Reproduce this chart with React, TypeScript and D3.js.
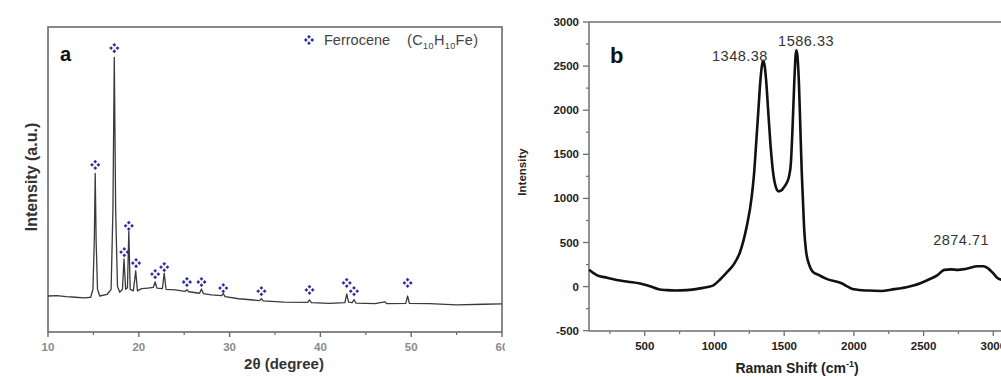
import React, { useEffect } from "react";
import * as d3 from "d3";

// ---------- Panel a : XRD ----------
const xrdAngle = [10.0, 11.0, 12.0, 13.0, 14.0, 14.7, 14.95, 15.1, 15.2, 15.3, 15.45, 15.7, 16.5, 16.95, 17.15, 17.3, 17.45, 17.65, 17.9, 18.2, 18.37, 18.55, 18.75, 18.9, 19.05, 19.4, 19.66, 19.85, 20.3, 21.0, 21.6, 21.8, 22.0, 22.6, 22.8, 23.0, 24.0, 25.1, 25.3, 25.5, 26.7, 26.9, 27.1, 28.0, 29.1, 29.3, 29.5, 31.0, 33.3, 33.5, 33.7, 36.0, 38.6, 38.8, 39.0, 41.0, 42.7, 42.9, 43.1, 43.5, 43.7, 43.9, 46.0, 47.1, 47.3, 49.4, 49.6, 49.8, 52.0, 55.0, 58.0, 60.0];
const xrdIntensity = [11.8, 11.9, 11.6, 11.4, 11.2, 11.4, 14, 30, 52, 30, 14, 11.8, 12.3, 14, 40, 90, 40, 15, 13, 14, 24, 14, 14.5, 33, 14, 13.5, 20, 13.5, 14.2, 14.4, 14.6, 16.4, 14.4, 14.2, 19.3, 14, 13.8, 13.3, 13.9, 13.2, 12.7, 14.1, 12.6, 12.2, 11.9, 12.6, 11.6, 10.9, 10.3, 10.9, 10.2, 9.8, 9.7, 10.5, 9.6, 9.4, 9.6, 12.5, 9.8, 9.6, 10.6, 9.5, 9.3, 9.9, 9.3, 9.4, 11.8, 9.4, 9.3, 8.9, 9.1, 9.2];
const ferroceneAngle = [15.2, 17.3, 18.4, 18.9, 19.7, 21.8, 22.8, 25.3, 26.9, 29.3, 33.5, 38.8, 42.9, 43.7, 49.6];
const ferroceneLevel = [54.8, 93.1, 26.2, 34.8, 22.6, 19.0, 21.3, 16.4, 16.4, 14.4, 13.4, 13.8, 16.1, 13.4, 16.1];
const xrdMajorTicks = [10, 20, 30, 40, 50, 60];
const xrdMinorTicks = [15, 25, 35, 45, 55];

// ---------- Panel b : Raman ----------
const ramanShift = [100, 155, 230, 298, 380, 466, 538, 600, 657, 720, 800, 896, 950, 992, 1040, 1088, 1135, 1183, 1231, 1267, 1285, 1300, 1315, 1330, 1340, 1348, 1358, 1370, 1385, 1400, 1420, 1440, 1460, 1480, 1500, 1520, 1535, 1548, 1560, 1572, 1582, 1588, 1596, 1606, 1616, 1626, 1634, 1644, 1656, 1680, 1704, 1750, 1800, 1907, 2000, 2099, 2200, 2265, 2350, 2434, 2530, 2600, 2648, 2700, 2745, 2800, 2888, 2930, 2960, 3000, 3032, 3080];
const ramanIntensity = [190, 130, 100, 75, 55, 35, 5, -30, -40, -45, -40, -20, -5, 15, 80, 160, 245, 390, 680, 1018, 1300, 1650, 2000, 2350, 2500, 2560, 2520, 2350, 2000, 1650, 1300, 1130, 1080, 1090, 1130, 1180, 1250, 1400, 1800, 2300, 2620, 2680, 2600, 2300, 1800, 1300, 1000, 640, 414, 245, 170, 130, 90, 40, -30, -45, -50, -35, -15, 15, 75, 130, 190, 195, 190, 200, 230, 230, 210, 150, 95, 70];
const ramanXTicks = [500, 1000, 1500, 2000, 2500, 3000];
const ramanXMinor = [250, 750, 1250, 1750, 2250, 2750];
const ramanYTicks = [-500, 0, 500, 1000, 1500, 2000, 2500, 3000];
const ramanYMinor = [-250, 250, 750, 1250, 1750, 2250, 2750];
const ramanPeakLabel = ["1348.38", "1586.33", "2874.71"];
const ramanPeakLabelShift = [1183, 1657, 2769];
const ramanPeakLabelLevel = [2563, 2733, 471];

const FONT = "Arial, 'Liberation Sans', sans-serif";

function Clover({ x, y, r = 3.2, color = "#2f2fa0" }: { x: number; y: number; r?: number; color?: string }) {
  const s = 1.9;
  const offs = [
    [0, -r],
    [r, 0],
    [0, r],
    [-r, 0],
  ];
  return (
    <g>
      {offs.map(([dx, dy], i) => (
        <path
          key={i}
          d={`M${x + dx},${y + dy - s}L${x + dx + s},${y + dy}L${x + dx},${y + dy + s}L${x + dx - s},${y + dy}Z`}
          fill={color}
        />
      ))}
    </g>
  );
}

export default function App() {
  useEffect(() => {
    document.body.style.margin = "0";
  }, []);

  // panel a scales
  const xa = d3.scaleLinear().domain([10, 60]).range([48, 502]);
  const ya = d3.scaleLinear().domain([0, 100]).range([332, 27]);
  const xrdPts: [number, number][] = xrdAngle.map((a, i) => [a, xrdIntensity[i]]);
  const xrdLine = d3
    .line<[number, number]>()
    .x((d) => xa(d[0]))
    .y((d) => ya(d[1]))(xrdPts);

  // panel b scales
  const xb = d3.scaleLinear().domain([100, 3000]).range([589, 993.3]);
  const yb = d3.scaleLinear().domain([-500, 3000]).range([330.7, 22]);
  const ramanPts: [number, number][] = ramanShift.map((s, i) => [s, ramanIntensity[i]]);
  const ramanLine = d3
    .line<[number, number]>()
    .x((d) => xb(d[0]))
    .y((d) => yb(d[1]))
    .curve(d3.curveMonotoneX)(ramanPts);

  return (
    <svg
      width={1001}
      height={377}
      style={{ position: "absolute", left: 0, top: 0, background: "#fff" }}
      fontFamily={FONT}
    >
      <defs>
        <clipPath id="clipA">
          <rect x={0} y={0} width={505} height={377} />
        </clipPath>
        <clipPath id="clipB">
          <rect x={506} y={0} width={495} height={377} />
        </clipPath>
      </defs>

      {/* ---------------- Panel a ---------------- */}
      <g clipPath="url(#clipA)">
        <rect x={48} y={27} width={454} height={305} fill="none" stroke="#6a6a6a" strokeWidth={1.6} />
        {xrdMajorTicks.map((t) => (
          <g key={t}>
            <line x1={xa(t)} x2={xa(t)} y1={332} y2={337} stroke="#6a6a6a" strokeWidth={1.4} />
            <text x={xa(t)} y={351} textAnchor="middle" fontSize={11.5} fontWeight="bold" fill="#8a8a8a">
              {t}
            </text>
          </g>
        ))}
        {xrdMinorTicks.map((t) => (
          <line key={t} x1={xa(t)} x2={xa(t)} y1={332} y2={335} stroke="#6a6a6a" strokeWidth={1.2} />
        ))}
        <path d={xrdLine ?? ""} fill="none" stroke="#3a3a3a" strokeWidth={1.3} strokeLinejoin="round" />
        {ferroceneAngle.map((a, i) => (
          <Clover key={i} x={xa(a)} y={ya(ferroceneLevel[i])} />
        ))}
        <text x={60} y={61} fontSize={20} fontWeight="bold" fill="#111">
          a
        </text>
        <Clover x={309} y={40} />
        <text x={324} y={45} fontSize={14.5} fill="#444">
          Ferrocene
        </text>
        <text x={407} y={45} fontSize={14.5} fill="#444" letterSpacing={0.4}>
          (C<tspan fontSize={9} dy={4}>10</tspan>
          <tspan dy={-4}>H</tspan>
          <tspan fontSize={9} dy={4}>10</tspan>
          <tspan dy={-4}>Fe)</tspan>
        </text>
        <text x={284} y={369} textAnchor="middle" fontSize={15} fontWeight="bold" fill="#333">
          2θ (degree)
        </text>
        <text
          transform="translate(37,177) rotate(-90)"
          textAnchor="middle"
          fontSize={16}
          fontWeight="bold"
          fill="#333"
        >
          Intensity (a.u.)
        </text>
      </g>

      {/* ---------------- Panel b ---------------- */}
      <g clipPath="url(#clipB)">
        <line x1={589} x2={589} y1={22} y2={331} stroke="#6f6f6f" strokeWidth={1.5} />
        <line x1={589} x2={1001} y1={331} y2={331} stroke="#6f6f6f" strokeWidth={1.5} />
        <line x1={589} x2={1001} y1={22} y2={22} stroke="#6f6f6f" strokeWidth={1.5} />
        {ramanYTicks.map((t) => (
          <g key={t}>
            <line x1={583} x2={589} y1={yb(t)} y2={yb(t)} stroke="#6f6f6f" strokeWidth={1.3} />
            <text x={579} y={yb(t) + 4} textAnchor="end" fontSize={11.5} fontWeight="bold" fill="#222">
              {t}
            </text>
          </g>
        ))}
        {ramanYMinor.map((t) => (
          <line key={t} x1={586} x2={589} y1={yb(t)} y2={yb(t)} stroke="#6f6f6f" strokeWidth={1.2} />
        ))}
        {ramanXTicks.map((t) => (
          <g key={t}>
            <line x1={xb(t)} x2={xb(t)} y1={331} y2={336} stroke="#6f6f6f" strokeWidth={1.3} />
            <text x={xb(t)} y={350} textAnchor="middle" fontSize={11.5} fontWeight="bold" fill="#222">
              {t}
            </text>
          </g>
        ))}
        {ramanXMinor.map((t) => (
          <line key={t} x1={xb(t)} x2={xb(t)} y1={331} y2={334} stroke="#6f6f6f" strokeWidth={1.2} />
        ))}
        <path d={ramanLine ?? ""} fill="none" stroke="#111" strokeWidth={2.6} strokeLinejoin="round" />
        {ramanPeakLabel.map((l, i) => (
          <text
            key={l}
            x={xb(ramanPeakLabelShift[i])}
            y={yb(ramanPeakLabelLevel[i])}
            textAnchor="middle"
            fontSize={14.5}
            letterSpacing={0.5}
            fill="#333"
          >
            {l}
          </text>
        ))}
        <text x={610} y={63} fontSize={22} fontWeight="bold" fill="#111">
          b
        </text>
        <text
          transform="translate(526,172) rotate(-90)"
          textAnchor="middle"
          fontSize={11.5}
          fontWeight="bold"
          fill="#222"
        >
          Intensity
        </text>
        <text x={797} y={373} textAnchor="middle" fontSize={14} fontWeight="bold" fill="#222">
          Raman Shift (cm<tspan fontSize={9} dy={-6}>-1</tspan>
          <tspan dy={6}>)</tspan>
        </text>
      </g>
    </svg>
  );
}
